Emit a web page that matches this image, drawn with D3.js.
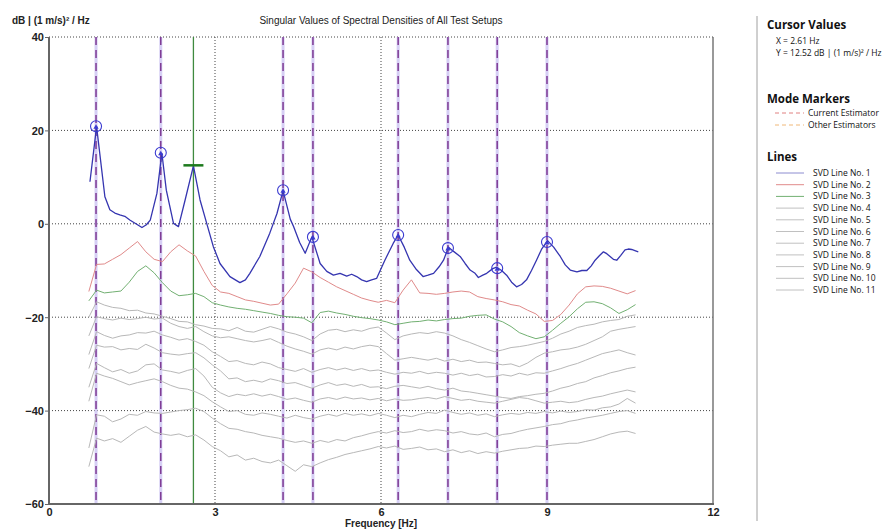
<!DOCTYPE html>
<html><head><meta charset="utf-8">
<script src="https://cdn.jsdelivr.net/npm/d3@7"></script>
<style>
body{margin:0;background:#fff;}
svg{display:block;}
</style></head>
<body>
<script>
// ---------- DATA ----------
const title = "Singular Values of Spectral Densities of All Test Setups";
const yAxisLabel = "dB | (1 m/s)\u00B2 / Hz";
const xAxisLabel = "Frequency [Hz]";
const xTicks = [0, 3, 6, 9, 12];
const yTicks = [-60, -40, -20, 0, 20, 40];

// SVD line 1 (own frequency sampling)
const svd1Freq = [0.74,0.86,1.01,1.10,1.19,1.28,1.37,1.46,1.57,1.68,1.76,1.83,1.95,2.04,2.12,2.25,2.34,2.46,2.61,2.73,2.85,2.97,3.09,3.27,3.45,3.55,3.63,3.81,3.99,4.12,4.23,4.36,4.42,4.53,4.63,4.75,4.90,5.02,5.14,5.26,5.38,5.47,5.56,5.65,5.74,5.83,5.92,6.07,6.22,6.31,6.42,6.52,6.64,6.76,6.85,6.95,7.05,7.13,7.22,7.30,7.43,7.52,7.61,7.70,7.76,7.84,7.91,8.02,8.09,8.18,8.27,8.36,8.45,8.54,8.63,8.72,8.81,8.90,9.01,9.12,9.24,9.33,9.42,9.54,9.63,9.72,9.80,9.87,9.95,10.02,10.08,10.14,10.20,10.26,10.33,10.41,10.47,10.53,10.60,10.65];
const svd1 = [9.0,20.8,5.8,3.0,2.3,1.9,1.6,0.8,0.0,-0.8,-0.2,0.8,6.5,15.1,7.2,0.1,-0.6,5.1,12.4,5.1,0.1,-4.9,-8.5,-11.3,-12.6,-12.0,-10.6,-7.0,-2.0,2.2,7.1,1.0,-0.6,-4.0,-6.3,-2.8,-8.5,-10.2,-11.0,-10.6,-11.2,-10.8,-11.3,-12.0,-12.4,-12.0,-11.7,-7.8,-4.2,-2.4,-5.0,-7.8,-9.8,-11.3,-11.0,-10.6,-9.2,-7.8,-5.0,-5.8,-7.0,-8.5,-9.9,-10.6,-11.5,-11.0,-10.6,-9.6,-9.3,-10.0,-11.0,-12.5,-13.5,-13.0,-12.0,-10.0,-7.8,-5.5,-3.6,-5.0,-7.0,-8.8,-9.9,-10.3,-10.0,-10.0,-9.0,-7.8,-6.8,-6.0,-6.4,-7.0,-7.6,-7.8,-6.8,-5.6,-5.4,-5.5,-5.8,-6.0];

// shared frequency sampling for SVD lines 2..11
const freq = [0.72,0.86,1.0,1.15,1.3,1.45,1.6,1.75,1.9,2.05,2.2,2.35,2.5,2.65,2.8,2.95,3.1,3.25,3.4,3.55,3.7,3.85,4.0,4.15,4.3,4.45,4.6,4.75,4.9,5.05,5.2,5.35,5.5,5.65,5.8,5.95,6.1,6.25,6.4,6.55,6.7,6.85,7.0,7.15,7.3,7.45,7.6,7.75,7.9,8.05,8.2,8.35,8.5,8.65,8.8,8.95,9.1,9.25,9.4,9.55,9.7,9.85,10.0,10.15,10.3,10.45,10.6];
const svd2 = [-14.5,-8.7,-8.6,-7.6,-6.6,-5.2,-3.8,-6.0,-7.6,-8.1,-6.0,-4.5,-5.8,-6.9,-10.2,-13.2,-14.6,-14.9,-15.6,-16.3,-16.6,-17.0,-17.4,-17.2,-15.0,-12.7,-9.5,-10.3,-11.5,-12.5,-13.5,-14.3,-15.1,-15.9,-16.4,-16.8,-16.4,-16.9,-14.2,-12.0,-14.8,-14.9,-15.1,-14.9,-14.6,-14.4,-14.6,-15.6,-16.0,-16.3,-16.7,-17.3,-17.6,-18.5,-19.3,-20.9,-20.7,-19.4,-17.4,-15.0,-13.5,-13.3,-13.4,-13.8,-14.4,-15.0,-14.3];
const svd3 = [-16.5,-14.2,-14.8,-14.6,-14.4,-12.5,-10.2,-9.0,-10.5,-12.6,-14.4,-15.4,-15.2,-14.9,-15.6,-16.9,-17.4,-17.8,-18.1,-18.3,-18.6,-18.9,-19.2,-19.6,-19.9,-20.0,-20.2,-21.2,-19.0,-18.7,-19.1,-19.4,-19.8,-20.1,-20.3,-20.6,-21.0,-21.6,-21.3,-21.0,-20.9,-20.6,-20.8,-20.5,-20.3,-20.2,-19.8,-19.6,-19.5,-20.4,-21.0,-22.0,-23.3,-24.0,-24.6,-24.2,-22.8,-21.3,-19.9,-18.2,-16.8,-16.7,-17.1,-18.0,-19.2,-18.4,-17.3];
const svd4 = [-20.0,-16.7,-17.4,-17.9,-18.1,-18.6,-18.5,-19.1,-19.3,-19.8,-20.3,-20.9,-21.0,-21.6,-21.9,-22.4,-22.5,-22.9,-22.2,-23.0,-23.2,-22.6,-22.0,-22.5,-23.2,-23.6,-24.2,-25.0,-23.6,-22.8,-22.6,-23.1,-22.7,-23.0,-22.4,-22.1,-23.4,-24.8,-24.0,-23.6,-23.3,-23.5,-23.1,-23.4,-24.0,-24.8,-25.4,-26.1,-26.8,-27.4,-27.0,-26.5,-26.3,-26.0,-25.6,-25.2,-24.5,-23.6,-23.0,-22.2,-21.8,-21.5,-21.0,-20.7,-20.5,-19.8,-19.5];
const svd5 = [-24.0,-19.9,-20.3,-20.6,-20.2,-20.5,-20.3,-20.0,-20.4,-20.2,-21.3,-22.0,-22.4,-22.0,-23.1,-24.0,-24.4,-24.2,-24.6,-25.0,-25.3,-25.0,-24.6,-25.4,-26.2,-26.8,-27.3,-27.9,-27.0,-26.6,-27.0,-26.4,-26.8,-26.3,-26.0,-26.3,-27.8,-29.2,-28.9,-28.6,-28.9,-29.2,-28.8,-29.4,-29.0,-29.5,-29.2,-29.7,-29.6,-29.9,-30.2,-30.0,-30.6,-29.8,-28.6,-27.7,-27.4,-27.0,-26.8,-26.4,-25.8,-25.0,-24.2,-23.0,-22.6,-22.3,-22.0];
const svd6 = [-28.0,-23.1,-23.9,-24.5,-24.0,-23.8,-23.3,-23.4,-23.0,-23.8,-24.3,-24.9,-24.6,-25.2,-26.0,-27.4,-28.4,-29.5,-29.3,-29.9,-30.2,-29.6,-30.0,-30.8,-31.2,-31.6,-31.0,-31.8,-31.2,-30.8,-31.3,-30.9,-31.4,-31.0,-31.5,-31.3,-31.8,-32.2,-31.8,-32.0,-31.6,-32.1,-31.8,-32.0,-32.4,-32.0,-32.5,-32.2,-32.8,-32.7,-32.3,-32.6,-32.0,-32.4,-31.9,-32.0,-31.5,-31.0,-30.4,-29.9,-29.2,-28.5,-27.8,-27.4,-27.0,-27.6,-28.1];
const svd7 = [-31.0,-26.0,-26.4,-26.3,-27.0,-26.7,-26.9,-25.8,-26.6,-27.6,-27.9,-28.1,-27.8,-27.6,-28.7,-30.2,-31.5,-33.2,-33.0,-33.8,-33.5,-33.9,-33.2,-33.6,-34.2,-34.0,-34.6,-35.2,-34.5,-34.0,-34.6,-34.3,-34.8,-34.4,-35.0,-34.9,-35.3,-34.8,-34.6,-34.9,-35.2,-34.8,-35.3,-35.6,-35.2,-35.8,-36.0,-36.3,-36.6,-36.9,-37.2,-37.4,-37.0,-36.8,-36.5,-36.3,-35.8,-35.2,-34.8,-34.2,-33.8,-33.0,-32.5,-31.9,-31.5,-31.0,-30.7];
const svd8 = [-35.0,-29.9,-30.8,-31.7,-31.2,-32.0,-31.5,-30.2,-30.0,-31.3,-31.6,-32.0,-31.4,-31.0,-32.6,-35.0,-36.2,-37.0,-36.5,-36.8,-36.4,-36.9,-36.5,-37.0,-37.6,-37.3,-37.8,-38.2,-37.5,-37.2,-37.6,-37.1,-37.5,-37.3,-37.7,-37.4,-37.9,-37.5,-37.8,-37.7,-37.4,-37.2,-37.5,-37.0,-37.4,-37.8,-37.6,-38.0,-38.2,-38.4,-38.0,-37.6,-37.2,-37.4,-37.9,-38.4,-38.2,-38.0,-38.3,-38.1,-37.6,-37.2,-36.9,-36.4,-36.0,-35.6,-36.0];
const svd9 = [-38.0,-32.0,-32.6,-33.1,-33.8,-34.5,-34.0,-33.6,-33.2,-33.8,-34.6,-35.2,-35.4,-36.0,-36.8,-38.1,-39.2,-40.2,-40.0,-40.8,-41.0,-40.5,-40.8,-41.2,-41.6,-41.0,-41.5,-41.8,-41.2,-40.8,-41.2,-40.6,-41.0,-40.7,-41.1,-40.6,-41.0,-41.5,-41.0,-41.3,-40.8,-40.4,-40.6,-39.9,-40.4,-40.8,-40.5,-41.0,-40.7,-41.3,-40.9,-40.6,-40.8,-40.4,-40.6,-40.2,-40.5,-40.1,-40.4,-40.2,-39.8,-39.9,-39.4,-39.2,-38.6,-37.4,-38.4];
const svd10 = [-48.0,-40.9,-41.2,-42.4,-41.8,-40.8,-41.0,-40.2,-40.5,-40.6,-40.3,-40.0,-39.8,-39.5,-40.2,-41.6,-42.8,-43.8,-44.0,-44.5,-44.8,-45.3,-45.6,-45.9,-46.4,-46.8,-46.5,-47.0,-46.4,-46.8,-46.2,-46.5,-45.8,-45.4,-44.9,-44.5,-44.8,-44.3,-44.7,-44.5,-44.0,-44.4,-44.1,-44.3,-44.8,-44.5,-45.0,-45.2,-44.8,-45.6,-45.1,-44.9,-44.4,-44.0,-43.7,-43.4,-43.0,-42.8,-42.3,-42.0,-41.6,-41.3,-41.0,-40.6,-40.2,-40.0,-40.6];
const svd11 = [-52.0,-45.9,-46.5,-46.0,-46.8,-45.5,-44.2,-43.4,-44.6,-45.0,-45.3,-45.0,-45.6,-45.2,-46.3,-47.7,-48.6,-49.9,-49.5,-50.6,-50.2,-50.9,-51.2,-50.6,-51.8,-53.0,-51.6,-52.0,-51.2,-50.5,-50.0,-49.4,-49.0,-48.6,-48.2,-47.7,-48.0,-47.6,-48.3,-48.1,-47.8,-48.4,-48.2,-48.8,-48.4,-49.0,-48.6,-49.2,-48.8,-49.1,-48.7,-48.4,-48.1,-48.0,-47.6,-47.7,-47.4,-47.2,-47.0,-47.0,-46.6,-46.2,-45.6,-45.0,-44.6,-44.4,-44.9];

const lineNames = ["SVD Line No. 1","SVD Line No. 2","SVD Line No. 3","SVD Line No. 4","SVD Line No. 5","SVD Line No. 6","SVD Line No. 7","SVD Line No. 8","SVD Line No. 9","SVD Line No. 10","SVD Line No. 11"];
const lineColors = ["#3535b0","#e08a8a","#72b072","#b8b8b8","#b8b8b8","#b8b8b8","#b8b8b8","#b8b8b8","#b8b8b8","#b8b8b8","#b8b8b8"];
const legendColors = ["#8c8cd0","#e08a8a","#72b072","#c0c0c0","#c0c0c0","#c0c0c0","#c0c0c0","#c0c0c0","#c0c0c0","#c0c0c0","#c0c0c0"];

// mode markers (picked peaks)
const modeFreqs = [0.85, 2.02, 4.23, 4.77, 6.31, 7.21, 8.10, 9.00];
const modeValues = [20.9, 15.2, 7.2, -2.8, -2.4, -5.2, -9.5, -3.9];

// cursor
const cursorX = 2.61;
const cursorY = 12.52;
const cursorTexts = ["X = 2.61 Hz", "Y = 12.52 dB | (1 m/s)\u00B2 / Hz"];
const markerLegend = [{label:"Current Estimator", color:"#e08080"}, {label:"Other Estimators", color:"#f0b878"}];

// ---------- DRAW ----------
const W = 883, H = 530;
const svg = d3.select("body").append("svg").attr("width", W).attr("height", H);
const x = d3.scaleLinear().domain([0, 12]).range([49, 713]);
const y = d3.scaleLinear().domain([-60, 40]).range([504, 37]);
const plotFont = "'Liberation Sans', Arial, sans-serif";
const legFont = "'Open Sans', 'Noto Sans', sans-serif";

svg.append("defs").append("clipPath").attr("id","clip")
  .append("rect").attr("x", x(0)).attr("y", y(40)).attr("width", x(12)-x(0)).attr("height", y(-60)-y(40));

// grid
const grid = svg.append("g");
[3,6,9].forEach(v => grid.append("line").attr("x1", x(v)).attr("x2", x(v)).attr("y1", y(40)).attr("y2", y(-60))
  .attr("stroke","#444").attr("stroke-width",1).attr("stroke-dasharray","1,2"));
[40,20,0,-20,-40].forEach(v => grid.append("line").attr("x1", x(0)).attr("x2", x(12)).attr("y1", y(v)).attr("y2", y(v))
  .attr("stroke","#444").attr("stroke-width",1).attr("stroke-dasharray","1,2"));

// mode marker vertical lines
const mk = svg.append("g");
modeFreqs.forEach(f => {
  mk.append("line").attr("x1", x(f)).attr("x2", x(f)).attr("y1", y(40)).attr("y2", y(-60))
    .attr("stroke","#d6cff5").attr("stroke-width",3);
  mk.append("line").attr("x1", x(f)).attr("x2", x(f)).attr("y1", y(40)).attr("y2", y(-60))
    .attr("stroke","#7e3a94").attr("stroke-width",1.5).attr("stroke-dasharray","8,5");
});

// cursor vertical line
svg.append("line").attr("x1", x(cursorX)).attr("x2", x(cursorX)).attr("y1", y(40)).attr("y2", y(-60))
  .attr("stroke","#3f8a3f").attr("stroke-width",1.3);

// SVD lines
const series = [
  {f: svd1Freq, v: svd1},
  {f: freq, v: svd2}, {f: freq, v: svd3}, {f: freq, v: svd4}, {f: freq, v: svd5}, {f: freq, v: svd6},
  {f: freq, v: svd7}, {f: freq, v: svd8}, {f: freq, v: svd9}, {f: freq, v: svd10}, {f: freq, v: svd11}
];
const line = d3.line().x(d => x(d[0])).y(d => y(d[1]));
const lg = svg.append("g").attr("clip-path","url(#clip)");
for (let i = series.length - 1; i >= 0; i--) {
  const pts = series[i].f.map((f, j) => [f, series[i].v[j]]);
  lg.append("path").attr("d", line(pts)).attr("fill","none")
    .attr("stroke", lineColors[i]).attr("stroke-width", i === 0 ? 1.3 : 1)
    .attr("stroke-linejoin","round");
}

// peak circles
modeFreqs.forEach((f, i) => {
  svg.append("circle").attr("cx", x(f)).attr("cy", y(modeValues[i])).attr("r", 5.5)
    .attr("fill","none").attr("stroke","#3a3ad0").attr("stroke-width",1.1);
  svg.append("path").attr("d", d3.symbol(d3.symbolTriangle, 12)())
    .attr("transform", `translate(${x(f)},${y(modeValues[i])+1})`).attr("fill","#3a3ad0");
});

// cursor horizontal marker
svg.append("line").attr("x1", x(cursorX)-10).attr("x2", x(cursorX)+10).attr("y1", y(cursorY)).attr("y2", y(cursorY))
  .attr("stroke","#1d7a1d").attr("stroke-width",2.5);

// frame
svg.append("line").attr("x1", x(12)).attr("x2", x(12)).attr("y1", y(40)).attr("y2", y(-60)).attr("stroke","#777").attr("stroke-width",1.5);
svg.append("line").attr("x1", x(0)).attr("x2", x(0)).attr("y1", y(40)).attr("y2", y(-60)+1).attr("stroke","#666").attr("stroke-width",2);
svg.append("line").attr("x1", x(0)-1).attr("x2", x(12)+1).attr("y1", y(-60)).attr("y2", y(-60)).attr("stroke","#666").attr("stroke-width",2);

// axes
const yAxis = svg.append("g").attr("transform", `translate(${x(0)-1},0)`)
  .call(d3.axisLeft(y).tickValues(yTicks).tickSize(3).tickPadding(1).tickFormat(d3.format("d")));
const xAxis = svg.append("g").attr("transform", `translate(0,${y(-60)+1})`)
  .call(d3.axisBottom(x).tickValues(xTicks).tickSize(0).tickPadding(3).tickFormat(d3.format("d")));
[yAxis, xAxis].forEach(a => {
  a.select(".domain").remove();
  a.selectAll(".tick line").attr("stroke","#666");
  a.selectAll("text").attr("font-family", plotFont).attr("font-size", 11).attr("font-weight","bold").attr("fill","#222");
});
yAxis.selectAll("text").attr("dy","0.35em");

// titles
svg.append("text").attr("x", 381).attr("y", 24).attr("text-anchor","middle")
  .attr("font-family", plotFont).attr("font-size", 10).attr("fill","#222").text(title);
svg.append("text").attr("x", 12).attr("y", 24)
  .attr("font-family", plotFont).attr("font-size", 10).attr("font-weight","bold").attr("fill","#222").text(yAxisLabel);
svg.append("text").attr("x", 381).attr("y", 527).attr("text-anchor","middle")
  .attr("font-family", plotFont).attr("font-size", 10).attr("font-weight","bold").attr("fill","#222").text(xAxisLabel);

// ---------- LEGEND PANEL ----------
svg.append("line").attr("x1", 757).attr("x2", 757).attr("y1", 16).attr("y2", 521).attr("stroke","#a0a0a0").attr("stroke-width",1);
const leg = svg.append("g").attr("font-family", legFont).attr("fill","#111");
leg.append("text").attr("x", 767).attr("y", 29).attr("font-size", 11.5).attr("font-weight","bold").text("Cursor Values");
cursorTexts.forEach((t, i) => leg.append("text").attr("x", 776).attr("y", 44 + i*12).attr("font-size", 8.5).text(t));

leg.append("text").attr("x", 767).attr("y", 103).attr("font-size", 11.5).attr("font-weight","bold").text("Mode Markers");
markerLegend.forEach((m, i) => {
  const yy = 116 + i*12;
  leg.append("line").attr("x1", 775).attr("x2", 804).attr("y1", yy-3).attr("y2", yy-3)
    .attr("stroke", m.color).attr("stroke-width",1).attr("stroke-dasharray","4,3");
  leg.append("text").attr("x", 808).attr("y", yy).attr("font-size", 8.5).text(m.label);
});

leg.append("text").attr("x", 767).attr("y", 161).attr("font-size", 11.5).attr("font-weight","bold").text("Lines");
lineNames.forEach((n, i) => {
  const yy = 176 + i*11.7;
  leg.append("line").attr("x1", 776).attr("x2", 804).attr("y1", yy-3).attr("y2", yy-3)
    .attr("stroke", legendColors[i]).attr("stroke-width",1);
  leg.append("text").attr("x", 813).attr("y", yy).attr("font-size", 8.5).text(n);
});
</script>
</body></html>
